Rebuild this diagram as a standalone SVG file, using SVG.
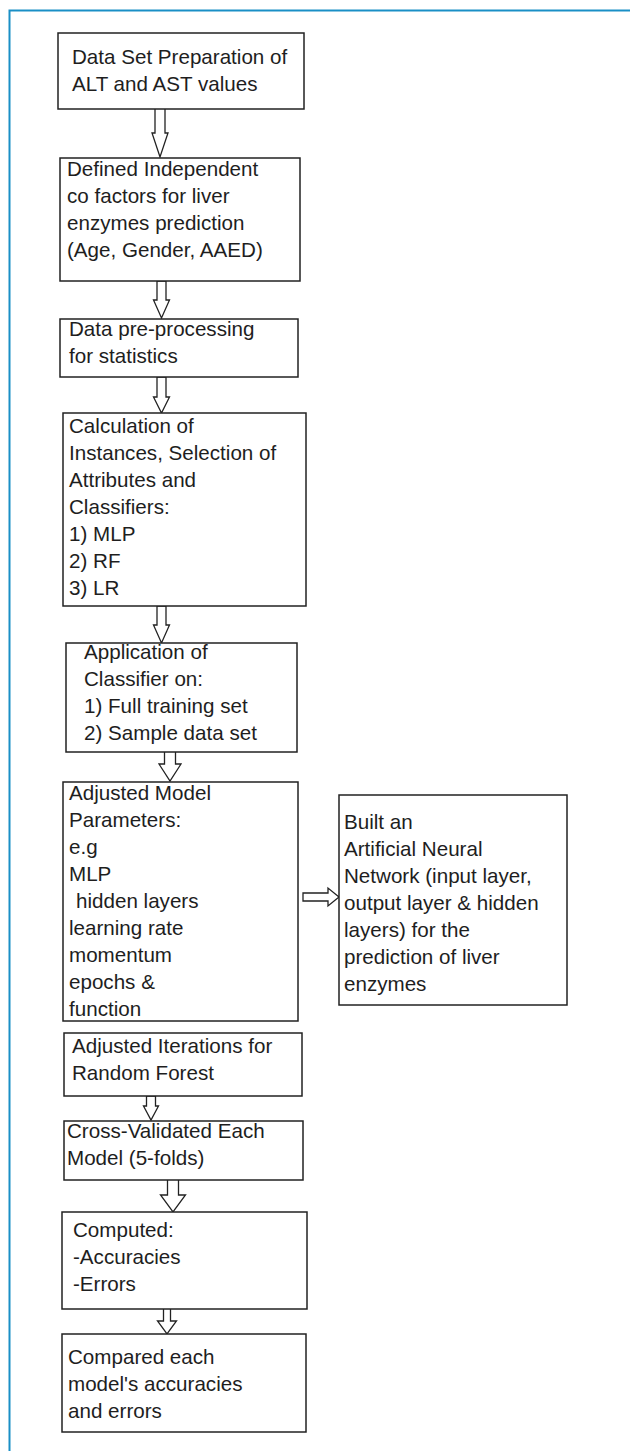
<svg xmlns="http://www.w3.org/2000/svg" width="630" height="1451" viewBox="0 0 630 1451">
<style>
.box{fill:#fff;stroke:#222;stroke-width:1.5}
.t{font-family:"Liberation Sans",Arial,sans-serif;font-size:20.6px;fill:#1e1e1e}
.arr{fill:#fff;stroke:#222;stroke-width:1.3;stroke-linejoin:miter}
.frame{fill:none;stroke:#1a8fc6;stroke-width:2}
</style>
<rect width="630" height="1451" fill="#fff"/>
<path class="frame" d="M9.5,1451 V10.5 H630"/>
<g id="connectors">
<path class="arr" d="M155,108 H165 V133 H168 L160,157 L152,133 H155 Z"/>
<path class="arr" d="M157,281 H166 V300 H169.5 L161.5,318 L153.5,300 H157 Z"/>
<path class="arr" d="M157,377 H166 V397 H169.5 L161.5,413 L153.5,397 H157 Z"/>
<path class="arr" d="M157,606 H166 V625 H169.5 L161.5,643 L153.5,625 H157 Z"/>
<path class="arr" d="M164.5,746 H175.5 V764 H181 L170,781 L159,764 H164.5 Z"/>
<path class="arr" d="M303,893 V901 H328 V906 L339,897 L328,888 V893 Z"/>
<path class="arr" d="M146.5,1096 H155.5 V1106 H158.5 L151,1120 L143.5,1106 H146.5 Z"/>
<path class="arr" d="M167.5,1176 H178.5 V1195 H185.5 L173,1212 L160.5,1195 H167.5 Z"/>
<path class="arr" d="M163.5,1307 H170.5 V1321 H176.5 L167,1334 L157.5,1321 H163.5 Z"/>
</g>
<g id="n1"><rect class="box" x="58" y="33" width="246" height="76"/>
<text class="t" x="72" y="64">Data Set Preparation of</text>
<text class="t" x="72" y="91">ALT and AST values</text></g>
<g id="n2"><rect class="box" x="60" y="158" width="240" height="123"/>
<text class="t" x="67" y="176">Defined Independent</text>
<text class="t" x="67" y="203">co factors for liver</text>
<text class="t" x="67" y="230">enzymes prediction</text>
<text class="t" x="67" y="257">(Age, Gender, AAED)</text></g>
<g id="n3"><rect class="box" x="60" y="319" width="238" height="58"/>
<text class="t" x="69" y="336">Data pre-processing</text>
<text class="t" x="69" y="363">for statistics</text></g>
<g id="n4"><rect class="box" x="63" y="413" width="243" height="193"/>
<text class="t" x="69" y="433">Calculation of</text>
<text class="t" x="69" y="460">Instances, Selection of</text>
<text class="t" x="69" y="487">Attributes and</text>
<text class="t" x="69" y="514">Classifiers:</text>
<text class="t" x="69" y="541">1) MLP</text>
<text class="t" x="69" y="568">2) RF</text>
<text class="t" x="69" y="595">3) LR</text></g>
<g id="n5"><rect class="box" x="66" y="643" width="231" height="109"/>
<text class="t" x="84" y="659">Application of</text>
<text class="t" x="84" y="686">Classifier on:</text>
<text class="t" x="84" y="713">1) Full training set</text>
<text class="t" x="84" y="740">2) Sample data set</text></g>
<g id="n6"><rect class="box" x="63" y="782" width="235" height="239"/>
<text class="t" x="69" y="800">Adjusted Model</text>
<text class="t" x="69" y="827">Parameters:</text>
<text class="t" x="69" y="854">e.g</text>
<text class="t" x="69" y="881">MLP</text>
<text class="t" x="76" y="908">hidden layers</text>
<text class="t" x="69" y="935">learning rate</text>
<text class="t" x="69" y="962">momentum</text>
<text class="t" x="69" y="989">epochs &amp;</text>
<text class="t" x="69" y="1016">function</text></g>
<g id="n7"><rect class="box" x="339" y="795" width="228" height="210"/>
<text class="t" x="344" y="829">Built an</text>
<text class="t" x="344" y="856">Artificial Neural</text>
<text class="t" x="344" y="883">Network (input layer,</text>
<text class="t" x="344" y="910">output layer &amp; hidden</text>
<text class="t" x="344" y="937">layers) for the</text>
<text class="t" x="344" y="964">prediction of liver</text>
<text class="t" x="344" y="991">enzymes</text></g>
<g id="n8"><rect class="box" x="64" y="1033" width="238" height="63"/>
<text class="t" x="72" y="1053">Adjusted Iterations for</text>
<text class="t" x="72" y="1080">Random Forest</text></g>
<g id="n9"><rect class="box" x="64" y="1121" width="239" height="59"/>
<text class="t" x="67" y="1138">Cross-Validated Each</text>
<text class="t" x="67" y="1165">Model (5-folds)</text></g>
<g id="n10"><rect class="box" x="62" y="1212" width="245" height="97"/>
<text class="t" x="73" y="1237">Computed:</text>
<text class="t" x="73" y="1264">-Accuracies</text>
<text class="t" x="73" y="1291">-Errors</text></g>
<g id="n11"><rect class="box" x="62" y="1334" width="244" height="98"/>
<text class="t" x="68" y="1364">Compared each</text>
<text class="t" x="68" y="1391">model's accuracies</text>
<text class="t" x="68" y="1418">and errors</text></g>
</svg>
